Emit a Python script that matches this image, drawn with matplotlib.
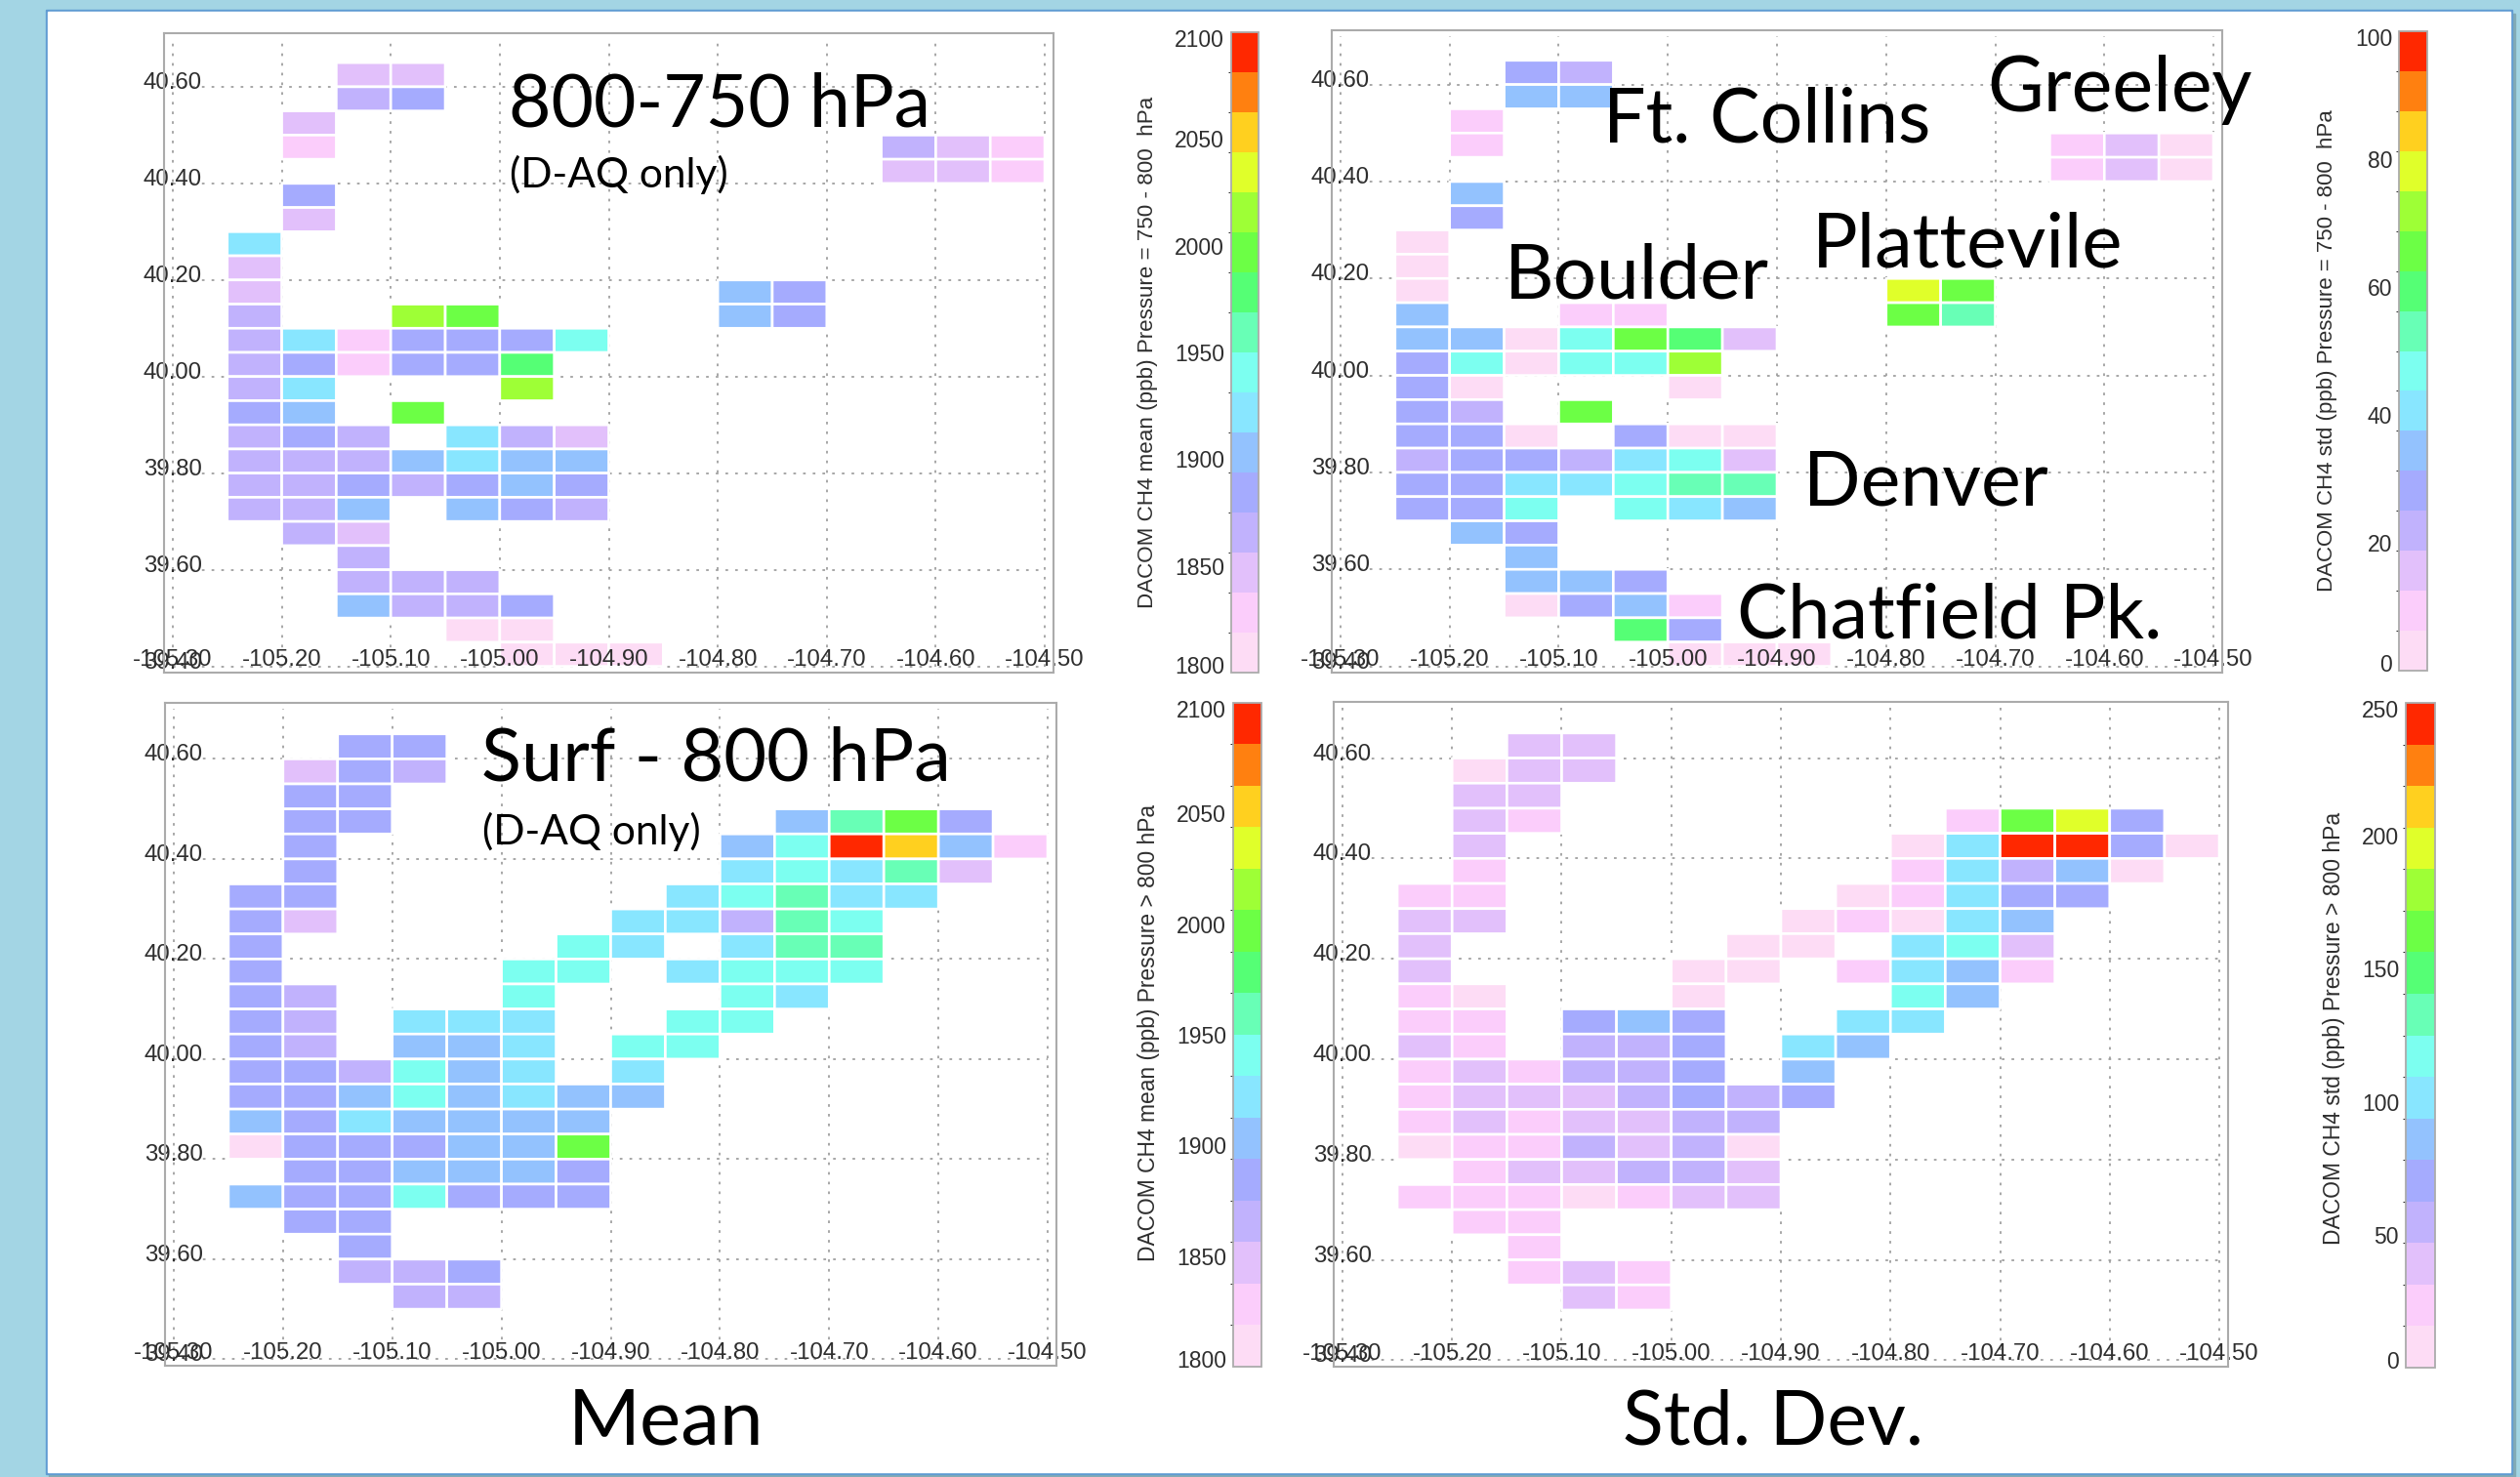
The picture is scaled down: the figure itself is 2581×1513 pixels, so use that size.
import matplotlib
matplotlib.use("Agg")
import matplotlib.pyplot as plt
import numpy as np
from matplotlib.cm import ScalarMappable
from matplotlib.colors import BoundaryNorm, ListedColormap
from matplotlib.patches import Rectangle
from matplotlib.transforms import ScaledTranslation

W, H = 2581, 1513
plt.rcParams["font.family"] = ["Liberation Sans", "DejaVu Sans"]

_ = np.nan

# cell centres, degrees
lons = [-105.225, -105.175, -105.125, -105.075, -105.025, -104.975, -104.925, -104.875,
        -104.825, -104.775, -104.725, -104.675, -104.625, -104.575, -104.525]
lats = [40.625, 40.575, 40.525, 40.475, 40.425, 40.375, 40.325, 40.275, 40.225, 40.175,
        40.125, 40.075, 40.025, 39.975, 39.925, 39.875, 39.825, 39.775, 39.725, 39.675,
        39.625, 39.575, 39.525, 39.475, 39.425]

# CH4 mean, 800-750 hPa (ppb)
mean_upper = [
    [_, _, 1847, 1847, _, _, _, _, _, _, _, _, _, _, _],
    [_, _, 1866, 1884, _, _, _, _, _, _, _, _, _, _, _],
    [_, 1847, _, _, _, _, _, _, _, _, _, _, _, _, _],
    [_, 1828, _, _, _, _, _, _, _, _, _, _, 1866, 1847, 1828],
    [_, _, _, _, _, _, _, _, _, _, _, _, 1847, 1847, 1828],
    [_, 1884, _, _, _, _, _, _, _, _, _, _, _, _, _],
    [_, 1847, _, _, _, _, _, _, _, _, _, _, _, _, _],
    [1922, _, _, _, _, _, _, _, _, _, _, _, _, _, _],
    [1847, _, _, _, _, _, _, _, _, _, _, _, _, _, _],
    [1847, _, _, _, _, _, _, _, _, 1903, 1884, _, _, _, _],
    [1866, _, _, 2016, 1997, _, _, _, _, 1903, 1884, _, _, _, _],
    [1866, 1922, 1828, 1884, 1884, 1884, 1941, _, _, _, _, _, _, _, _],
    [1866, 1884, 1828, 1884, 1884, 1978, _, _, _, _, _, _, _, _, _],
    [1866, 1922, _, _, _, 2016, _, _, _, _, _, _, _, _, _],
    [1884, 1903, _, 1997, _, _, _, _, _, _, _, _, _, _, _],
    [1866, 1884, 1866, _, 1922, 1866, 1847, _, _, _, _, _, _, _, _],
    [1866, 1866, 1866, 1903, 1922, 1903, 1903, _, _, _, _, _, _, _, _],
    [1866, 1866, 1884, 1866, 1884, 1903, 1884, _, _, _, _, _, _, _, _],
    [1866, 1866, 1903, _, 1903, 1884, 1866, _, _, _, _, _, _, _, _],
    [_, 1866, 1847, _, _, _, _, _, _, _, _, _, _, _, _],
    [_, _, 1866, _, _, _, _, _, _, _, _, _, _, _, _],
    [_, _, 1866, 1866, 1866, _, _, _, _, _, _, _, _, _, _],
    [_, _, 1903, 1866, 1866, 1884, _, _, _, _, _, _, _, _, _],
    [_, _, _, _, 1809, 1809, _, _, _, _, _, _, _, _, _],
    [_, _, _, _, _, 1809, 1809, 1809, _, _, _, _, _, _, _],
]

# CH4 std, 800-750 hPa (ppb)
std_upper = [
    [_, _, 28, 22, _, _, _, _, _, _, _, _, _, _, _],
    [_, _, 34, 34, _, _, _, _, _, _, _, _, _, _, _],
    [_, 9, _, _, _, _, _, _, _, _, _, _, _, _, _],
    [_, 9, _, _, _, _, _, _, _, _, _, _, 9, 16, 3],
    [_, _, _, _, _, _, _, _, _, _, _, _, 9, 16, 3],
    [_, 34, _, _, _, _, _, _, _, _, _, _, _, _, _],
    [_, 28, _, _, _, _, _, _, _, _, _, _, _, _, _],
    [3, _, _, _, _, _, _, _, _, _, _, _, _, _, _],
    [3, _, _, _, _, _, _, _, _, _, _, _, _, _, _],
    [3, _, _, _, _, _, _, _, _, 78, 66, _, _, _, _],
    [34, _, _, 9, 9, _, _, _, _, 66, 53, _, _, _, _],
    [34, 34, 3, 47, 66, 59, 16, _, _, _, _, _, _, _, _],
    [28, 47, 3, 47, 47, 72, _, _, _, _, _, _, _, _, _],
    [28, 3, _, _, _, 3, _, _, _, _, _, _, _, _, _],
    [28, 22, _, 66, _, _, _, _, _, _, _, _, _, _, _],
    [28, 28, 3, _, 28, 3, 3, _, _, _, _, _, _, _, _],
    [22, 28, 28, 22, 41, 47, 16, _, _, _, _, _, _, _, _],
    [28, 28, 41, 41, 47, 53, 53, _, _, _, _, _, _, _, _],
    [28, 28, 47, _, 47, 41, 34, _, _, _, _, _, _, _, _],
    [_, 34, 28, _, _, _, _, _, _, _, _, _, _, _, _],
    [_, _, 34, _, _, _, _, _, _, _, _, _, _, _, _],
    [_, _, 34, 34, 28, _, _, _, _, _, _, _, _, _, _],
    [_, _, 3, 28, 34, 9, _, _, _, _, _, _, _, _, _],
    [_, _, _, _, 59, 28, _, _, _, _, _, _, _, _, _],
    [_, _, _, _, _, 3, 3, 3, _, _, _, _, _, _, _],
]

# CH4 mean, surface to 800 hPa (ppb)
mean_lower = [
    [_, _, 1884, 1884, _, _, _, _, _, _, _, _, _, _, _],
    [_, 1847, 1884, 1866, _, _, _, _, _, _, _, _, _, _, _],
    [_, 1884, 1884, _, _, _, _, _, _, _, _, _, _, _, _],
    [_, 1884, 1884, _, _, _, _, _, _, _, 1903, 1959, 1997, 1884, _],
    [_, 1884, _, _, _, _, _, _, _, 1903, 1941, 2091, 2053, 1903, 1828],
    [_, 1884, _, _, _, _, _, _, _, 1922, 1941, 1922, 1959, 1847, _],
    [1884, 1884, _, _, _, _, _, _, 1922, 1941, 1959, 1922, 1922, _, _],
    [1884, 1847, _, _, _, _, _, 1922, 1922, 1866, 1959, 1941, _, _, _],
    [1884, _, _, _, _, _, 1941, 1922, _, 1922, 1959, 1959, _, _, _],
    [1884, _, _, _, _, 1941, 1941, _, 1922, 1941, 1941, 1941, _, _, _],
    [1884, 1866, _, _, _, 1941, _, _, _, 1941, 1922, _, _, _, _],
    [1884, 1866, _, 1922, 1922, 1922, _, _, 1941, 1941, _, _, _, _, _],
    [1884, 1866, _, 1903, 1903, 1922, _, 1941, 1941, _, _, _, _, _, _],
    [1884, 1884, 1866, 1941, 1903, 1922, _, 1922, _, _, _, _, _, _, _],
    [1884, 1884, 1903, 1941, 1903, 1922, 1903, 1903, _, _, _, _, _, _, _],
    [1903, 1884, 1922, 1903, 1903, 1903, 1903, _, _, _, _, _, _, _, _],
    [1809, 1884, 1884, 1884, 1903, 1903, 1997, _, _, _, _, _, _, _, _],
    [_, 1884, 1884, 1903, 1903, 1903, 1884, _, _, _, _, _, _, _, _],
    [1903, 1884, 1884, 1941, 1884, 1884, 1884, _, _, _, _, _, _, _, _],
    [_, 1884, 1884, _, _, _, _, _, _, _, _, _, _, _, _],
    [_, _, 1884, _, _, _, _, _, _, _, _, _, _, _, _],
    [_, _, 1866, 1866, 1884, _, _, _, _, _, _, _, _, _, _],
    [_, _, _, 1866, 1866, _, _, _, _, _, _, _, _, _, _],
    [_, _, _, _, _, _, _, _, _, _, _, _, _, _, _],
    [_, _, _, _, _, _, _, _, _, _, _, _, _, _, _],
]

# CH4 std, surface to 800 hPa (ppb)
std_lower = [
    [_, _, 39, 39, _, _, _, _, _, _, _, _, _, _, _],
    [_, 8, 39, 39, _, _, _, _, _, _, _, _, _, _, _],
    [_, 39, 39, _, _, _, _, _, _, _, _, _, _, _, _],
    [_, 39, 23, _, _, _, _, _, _, _, 23, 164, 195, 70, _],
    [_, 39, _, _, _, _, _, _, _, 8, 102, 242, 242, 70, 8],
    [_, 23, _, _, _, _, _, _, _, 23, 102, 55, 86, 8, _],
    [23, 23, _, _, _, _, _, _, 8, 23, 102, 70, 70, _, _],
    [39, 39, _, _, _, _, _, 8, 23, 8, 102, 86, _, _, _],
    [39, _, _, _, _, _, 8, 8, _, 102, 117, 39, _, _, _],
    [39, _, _, _, _, 8, 8, _, 23, 102, 86, 23, _, _, _],
    [23, 8, _, _, _, 8, _, _, _, 117, 86, _, _, _, _],
    [23, 23, _, 70, 86, 70, _, _, 102, 102, _, _, _, _, _],
    [39, 23, _, 55, 55, 70, _, 102, 86, _, _, _, _, _, _],
    [23, 39, 23, 55, 55, 70, _, 86, _, _, _, _, _, _, _],
    [23, 39, 39, 39, 55, 70, 55, 70, _, _, _, _, _, _, _],
    [23, 39, 23, 39, 39, 55, 55, _, _, _, _, _, _, _, _],
    [8, 23, 23, 55, 39, 55, 8, _, _, _, _, _, _, _, _],
    [_, 23, 39, 39, 55, 55, 39, _, _, _, _, _, _, _, _],
    [23, 23, 23, 8, 23, 39, 39, _, _, _, _, _, _, _, _],
    [_, 23, 23, _, _, _, _, _, _, _, _, _, _, _, _],
    [_, _, 23, _, _, _, _, _, _, _, _, _, _, _, _],
    [_, _, 23, 39, 23, _, _, _, _, _, _, _, _, _, _],
    [_, _, _, 39, 23, _, _, _, _, _, _, _, _, _, _],
    [_, _, _, _, _, _, _, _, _, _, _, _, _, _, _],
    [_, _, _, _, _, _, _, _, _, _, _, _, _, _, _],
]

bin_colors = ["#fddcf5", "#fbcdfb", "#e2c0fb", "#c1b2fd", "#a5abfe", "#93c2fe", "#88e6ff", "#7cfff0",
              "#68ffb6", "#55ff75", "#6cff45", "#9eff36", "#e0ff2a", "#ffd01f", "#ff8010", "#ff2800"]
lon_ticks = [-105.3, -105.2, -105.1, -105.0, -104.9, -104.8, -104.7, -104.6, -104.5]
lat_ticks = [39.4, 39.6, 39.8, 40.0, 40.2, 40.4, 40.6]
mean_ticks = [1800, 1850, 1900, 1950, 2000, 2050, 2100]
std100_ticks = [0, 20, 40, 60, 80, 100]
std250_ticks = [0, 50, 100, 150, 200, 250]

cmap = ListedColormap(bin_colors)
GRAY = "#ababab"
INK = "#2e2e2e"

fig = plt.figure(figsize=(W / 100, H / 100), dpi=100, facecolor="#a3d5e4")


def box(left, top, right, bottom):
    return [left / W, 1 - bottom / H, (right - left) / W, (bottom - top) / H]


def slide_rect(left, top, right, bottom, **kw):
    x, y, w, h = box(left, top, right, bottom)
    fig.add_artist(Rectangle((x, y), w, h, transform=fig.transFigure, zorder=-1, **kw))


def label(x, y, s, size):
    fig.text(x / W, 1 - y / H, s, fontsize=size, family="Lato", color="black", ha="left", va="baseline")


def shift(lab, dy_px):
    lab.set_transform(lab.get_transform() + ScaledTranslation(0, dy_px / 100, fig.dpi_scale_trans))


slide_rect(50, 14, 2576, 1513, color="#82aab5")
slide_rect(47, 10, 2573, 1510, color="#5f9bd2")
slide_rect(49, 12, 2571, 1508, color="white")


def map_panel(rect, grid, norm):
    ax = fig.add_axes(box(*rect))
    x_edges = np.r_[lons, lons[-1] + 0.05] - 0.025
    y_edges = np.r_[lats, lats[-1] - 0.05] + 0.025
    ax.vlines(lon_ticks, 39.4, 40.7, color="#a0a0a0", lw=1.3, ls=(0, (1.5, 4)), zorder=0.5)
    ax.hlines(lat_ticks, -105.3, -104.5, color="#a0a0a0", lw=1.3, ls=(0, (1.5, 4)), zorder=0.5)
    # pcolor drops the empty cells, so their white edges do not hide the grid
    ax.pcolor(x_edges, y_edges, np.ma.masked_invalid(grid), cmap=cmap, norm=norm,
              edgecolors="white", linewidth=1.9)
    ax.set_xlim(-105.308, -104.492)
    ax.set_ylim(39.387, 40.712)
    ax.set_xticks(lon_ticks, [f"{v:.2f}" for v in lon_ticks])
    ax.set_yticks(lat_ticks, [f"{v:.2f}" for v in lat_ticks])
    ax.tick_params(axis="x", length=0, pad=-17, labelsize=17.3, labelcolor=INK)
    ax.tick_params(axis="y", length=0, pad=-28, labelsize=17.3, labelcolor=INK)
    for lab in ax.get_yticklabels():
        shift(lab, 6.4)
    for s in ax.spines.values():
        s.set_color(GRAY)
        s.set_linewidth(1.5)
    return ax


def bar_panel(rect, norm, ticks, text, label_x, label_y, size):
    cax = fig.add_axes(box(*rect))
    cb = fig.colorbar(ScalarMappable(norm=norm, cmap=cmap), cax=cax, spacing="proportional", ticks=ticks)
    cb.outline.set_edgecolor(GRAY)
    cb.outline.set_linewidth(1.3)
    cax.yaxis.set_ticks_position("left")
    cax.tick_params(length=0, pad=5, labelsize=16.5, labelcolor=INK)
    labs = cax.get_yticklabels()
    shift(labs[0], 8)
    shift(labs[-1], -6)
    fig.text(label_x / W, 1 - label_y / H, text, rotation=90, fontsize=size, color=INK,
             ha="center", va="center")


norm_mean = BoundaryNorm(np.linspace(1800, 2100, 17), 16)
norm_std100 = BoundaryNorm(np.linspace(0, 100, 17), 16)
norm_std250 = BoundaryNorm(np.linspace(0, 250, 17), 16)

map_panel((168, 33.5, 1079, 689), mean_upper, norm_mean)
map_panel((1364, 31, 2276, 689), std_upper, norm_std100)
map_panel((169, 720, 1082, 1399), mean_lower, norm_mean)
map_panel((1366, 719, 2282, 1400), std_lower, norm_std250)

bar_panel((1261, 33, 1289, 689), norm_mean, mean_ticks,
          "DACOM CH4 mean (ppb) Pressure = 750 - 800  hPa", 1175, 361, 16.1)
bar_panel((2457, 32, 2486, 687), norm_std100, std100_ticks,
          "DACOM CH4 std (ppb) Pressure = 750 - 800  hPa", 2384, 359, 16.0)
bar_panel((1263, 720, 1292, 1400), norm_mean, mean_ticks,
          "DACOM CH4 mean (ppb) Pressure > 800 hPa", 1177, 1058, 16.4)
bar_panel((2464, 720, 2494, 1401), norm_std250, std250_ticks,
          "DACOM CH4 std (ppb) Pressure > 800 hPa", 2391, 1053, 16.5)

label(521, 129, "800-750 hPa", 54)
label(522, 192, "(D-AQ only)", 30.5)
label(493, 800, "Surf - 800 hPa", 54.5)
label(494, 865, "(D-AQ only)", 30.5)
label(1642, 145, "Ft. Collins", 55.5)
label(2035, 114, "Greeley", 57)
label(1541, 305, "Boulder", 56.5)
label(1856, 273, "Plattevile", 56)
label(1847, 518, "Denver", 55.5)
label(1779, 653, "Chatfield Pk.", 56)
label(582, 1480, "Mean", 57.5)
label(1662, 1480, "Std. Dev.", 55.5)

fig.savefig("out.png", dpi=100, facecolor=fig.get_facecolor())
